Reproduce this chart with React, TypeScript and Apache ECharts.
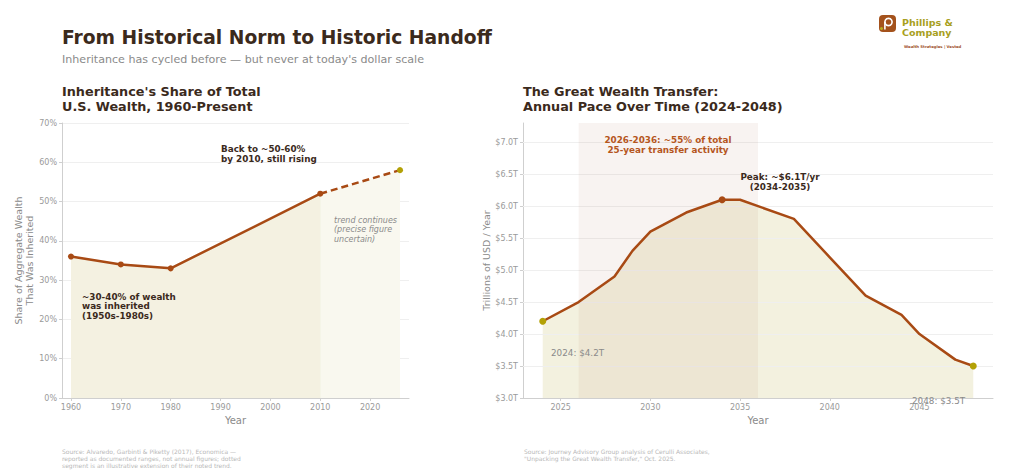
import React, { useEffect, useRef } from "react";
import * as echarts from "echarts";

// ---------- data ----------
const leftYears = [1960, 1970, 1980, 2010];
const leftShare = [36, 34, 33, 52];
const trendYears = [2010, 2026];
const trendShare = [52, 58];
const leftXTicks = [1960, 1970, 1980, 1990, 2000, 2010, 2020];
const leftYTicks = [0, 10, 20, 30, 40, 50, 60, 70];

const rightYears = [2024, 2026, 2028, 2029, 2030, 2032, 2034, 2035, 2038, 2040, 2042, 2044, 2045, 2047, 2048];
const rightValues = [4.2, 4.5, 4.9, 5.3, 5.6, 5.9, 6.1, 6.1, 5.8, 5.2, 4.6, 4.3, 4.0, 3.6, 3.5];
const rightXTicks = [2025, 2030, 2035, 2040, 2045];
const rightYTicks = [3.0, 3.5, 4.0, 4.5, 5.0, 5.5, 6.0, 6.5, 7.0];
const peakYear = 2034;
const shadeRange = [2026, 2036];

const FONT = "DejaVu Sans";
const LINE = "#a84a14";
const OLIVE = "#b3a106";
const DARK = "#3b2a1c";
const GRAY = "#8a8a8a";
const TICK = "#9a9a9a";
const AXIS = "#cfcfcf";

export default function App() {
  const ref = useRef<HTMLDivElement>(null);
  useEffect(() => {
    document.body.style.margin = "0";
    const chart = echarts.init(ref.current!, null, { renderer: "svg" });

    const axisCommon = {
      axisLine: { show: true, lineStyle: { color: AXIS, width: 1 } },
      axisTick: { show: true, length: 3, lineStyle: { color: AXIS } },
      axisLabel: { color: TICK, fontSize: 8, fontFamily: FONT, margin: 5 },
      nameTextStyle: { color: GRAY, fontFamily: FONT, fontSize: 9.5 },
    };

    const leftMain = leftYears.map((y, i) => [y, leftShare[i]]);
    const trendData = trendYears.map((y, i) => ({
      value: [y, trendShare[i]],
      symbol: i === 0 ? "none" : "circle",
      itemStyle: { color: OLIVE },
    }));
    const rightData = rightYears.map((y, i) => {
      const isEnd = i === 0 || i === rightYears.length - 1;
      const isPeak = y === peakYear;
      return {
        value: [y, rightValues[i]],
        symbol: isEnd || isPeak ? "circle" : "none",
        itemStyle: { color: isEnd ? OLIVE : LINE },
      };
    });

    const text = (t: string, x: number, y: number, o: any = {}) => ({
      type: "text",
      x,
      y,
      z: 100,
      silent: true,
      style: {
        text: t,
        fill: o.fill || DARK,
        fontSize: o.fontSize || 9,
        fontWeight: o.fontWeight || "normal",
        fontStyle: o.fontStyle || "normal",
        fontFamily: FONT,
        textAlign: o.align || "left",
        textVerticalAlign: o.valign || "top",
        lineHeight: o.lineHeight || 10,
      },
    });

    const yearFmt = (v: number) => String(v);

    chart.setOption({
      animation: false,
      backgroundColor: "#ffffff",
      grid: [
        { left: 62, top: 123, width: 347, height: 275 },
        { left: 523, top: 123, width: 470, height: 275 },
      ],
      xAxis: [
        {
          ...axisCommon,
          gridIndex: 0,
          type: "value",
          min: 1958.2,
          max: 2027.8,
          splitLine: { show: false },
          axisTick: { ...axisCommon.axisTick, customValues: leftXTicks },
          axisLabel: { ...axisCommon.axisLabel, customValues: leftXTicks, formatter: yearFmt },
          name: "Year",
          nameLocation: "middle",
          nameGap: 16,
          nameTextStyle: { ...axisCommon.nameTextStyle, fontSize: 10 },
        },
        {
          ...axisCommon,
          gridIndex: 1,
          type: "value",
          min: 2022.9,
          max: 2049.1,
          splitLine: { show: false },
          axisTick: { ...axisCommon.axisTick, customValues: rightXTicks },
          axisLabel: { ...axisCommon.axisLabel, customValues: rightXTicks, formatter: yearFmt },
          name: "Year",
          nameLocation: "middle",
          nameGap: 17,
          nameTextStyle: { ...axisCommon.nameTextStyle, fontSize: 10 },
        },
      ],
      yAxis: [
        {
          ...axisCommon,
          gridIndex: 0,
          type: "value",
          min: 0,
          max: 70,
          interval: 10,
          splitLine: { show: true, lineStyle: { color: "#efefef", width: 1 } },
          axisLabel: { ...axisCommon.axisLabel, formatter: "{value}%", customValues: leftYTicks },
          name: "Share of Aggregate Wealth\nThat Was Inherited",
          nameLocation: "middle",
          nameRotate: 90,
          nameGap: 26,
          nameTextStyle: { ...axisCommon.nameTextStyle, lineHeight: 11 },
        },
        {
          ...axisCommon,
          gridIndex: 1,
          type: "value",
          min: 3.0,
          max: 7.3,
          splitLine: { show: false },
          axisTick: { ...axisCommon.axisTick, customValues: rightYTicks },
          axisLabel: {
            ...axisCommon.axisLabel,
            customValues: rightYTicks,
            formatter: (v: number) => "$" + v.toFixed(1) + "T",
          },
          name: "Trillions of USD / Year",
          nameLocation: "middle",
          nameRotate: 90,
          nameGap: 31,
        },
      ],
      series: [
        // left: solid historical segment
        {
          type: "line",
          xAxisIndex: 0,
          yAxisIndex: 0,
          z: 3,
          data: leftMain,
          symbol: "circle",
          symbolSize: 6,
          itemStyle: { color: LINE },
          lineStyle: { color: LINE, width: 2.5 },
          areaStyle: { color: "#f4f1e1", opacity: 1 },
          markLine: {
            silent: true,
            z: 3,
            symbol: "none",
            label: { show: false },
            lineStyle: { color: "#e9e6d0", width: 1, type: "solid" },
            data: [[{ coord: [trendYears[0], 0] }, { coord: [trendYears[0], trendShare[0]] }]],
          },
        },
        // left: dashed trend extension
        {
          type: "line",
          xAxisIndex: 0,
          yAxisIndex: 0,
          z: 3,
          data: trendData,
          symbolSize: 6,
          lineStyle: { color: LINE, width: 2.5, type: [7, 4] },
          areaStyle: { color: "#f9f8ef", opacity: 1 },
        },
        // right: area fill
        {
          type: "line",
          xAxisIndex: 1,
          yAxisIndex: 1,
          z: 1,
          data: rightYears.map((y, i) => [y, rightValues[i]]),
          symbol: "none",
          lineStyle: { width: 0 },
          areaStyle: { color: "#f3f1df", opacity: 1 },
          silent: true,
        },
        // right: gridlines + shaded window
        {
          type: "line",
          xAxisIndex: 1,
          yAxisIndex: 1,
          z: 2,
          data: [],
          markLine: {
            silent: true,
            z: 2,
            symbol: "none",
            label: { show: false },
            lineStyle: { color: "#efefef", width: 1, type: "solid" },
            data: rightYTicks.slice(1).map((v) => ({ yAxis: v })),
          },
          markArea: {
            silent: true,
            z: 3,
            itemStyle: { color: "rgba(165,105,80,0.08)" },
            data: [[{ coord: [shadeRange[0], 3.0] }, { coord: [shadeRange[1], 7.3] }]],
          },
        },
        // right: line
        {
          type: "line",
          xAxisIndex: 1,
          yAxisIndex: 1,
          z: 4,
          data: rightData,
          symbolSize: 7,
          lineStyle: { color: LINE, width: 2.5 },
        },
      ],
      graphic: [
        text("From Historical Norm to Historic Handoff", 62, 37, { fontSize: 18.7, fontWeight: "bold", valign: "middle" }),
        text("Inheritance has cycled before — but never at today's dollar scale", 62, 59, {
          fontSize: 11.1,
          fill: GRAY,
          valign: "middle",
        }),
        text("Inheritance's Share of Total\nU.S. Wealth, 1960-Present", 62, 84, {
          fontSize: 12.8,
          fontWeight: "bold",
          lineHeight: 15,
        }),
        text("The Great Wealth Transfer:\nAnnual Pace Over Time (2024-2048)", 523, 84, {
          fontSize: 12.8,
          fontWeight: "bold",
          lineHeight: 15,
        }),
        text("Back to ~50-60%\nby 2010, still rising", 221, 144, { fontSize: 8.8, fontWeight: "bold" }),
        text("~30-40% of wealth\nwas inherited\n(1950s-1980s)", 82, 292, {
          fontSize: 8.8,
          fontWeight: "bold",
          lineHeight: 9.5,
        }),
        text("trend continues\n(precise figure\nuncertain)", 334, 216, {
          fontSize: 8,
          fontStyle: "italic",
          fill: GRAY,
          lineHeight: 9.3,
        }),
        text("2026-2036: ~55% of total\n25-year transfer activity", 668, 135, {
          fontSize: 8.8,
          fontWeight: "bold",
          fill: "#b5561d",
          align: "center",
        }),
        text("Peak: ~$6.1T/yr\n(2034-2035)", 780, 172, { fontSize: 8.8, fontWeight: "bold", align: "center" }),
        text("2024: $4.2T", 551, 353, { fontSize: 8.8, fill: GRAY, valign: "middle" }),
        text("2048: $3.5T", 912, 401, { fontSize: 8.8, fill: GRAY, valign: "middle" }),
        text(
          "Source: Alvaredo, Garbinti & Piketty (2017), Economica —\nreported as documented ranges, not annual figures; dotted\nsegment is an illustrative extension of their noted trend.",
          62,
          448,
          { fontSize: 6, fill: "#b8b8b8", lineHeight: 7 }
        ),
        text(
          "Source: Journey Advisory Group analysis of Cerulli Associates,\n\"Unpacking the Great Wealth Transfer,\" Oct. 2025.",
          524,
          448,
          { fontSize: 6, fill: "#b8b8b8", lineHeight: 7 }
        ),
        // logo
        {
          type: "rect",
          silent: true,
          z: 100,
          shape: { x: 879, y: 15, width: 17, height: 17, r: 4 },
          style: { fill: "#a4521c" },
        },
        {
          type: "arc",
          silent: true,
          z: 101,
          shape: { cx: 888.5, cy: 22, r: 3.6, startAngle: -Math.PI / 2, endAngle: Math.PI * 1.5 },
          style: { stroke: "#ffffff", lineWidth: 1.6, fill: "none" },
        },
        {
          type: "line",
          silent: true,
          z: 101,
          shape: { x1: 884.9, y1: 22, x2: 884.9, y2: 29.5 },
          style: { stroke: "#ffffff", lineWidth: 1.6 },
        },
        {
          type: "circle",
          silent: true,
          z: 101,
          shape: { cx: 881.5, cy: 28.5, r: 1.5 },
          style: { fill: "#b8b01e" },
        },
        text("Phillips &\nCompany", 902, 17, {
          fontSize: 9.5,
          fontWeight: "bold",
          fill: "#a8a01e",
          lineHeight: 10,
        }),
        text("Wealth Strategies | Vested", 904, 46, { fontSize: 3.8, fill: "#a0522d", valign: "middle", fontWeight: "bold" }),
      ],
    });
    return () => chart.dispose();
  }, []);
  return <div ref={ref} style={{ width: 1024, height: 474 }} />;
}
